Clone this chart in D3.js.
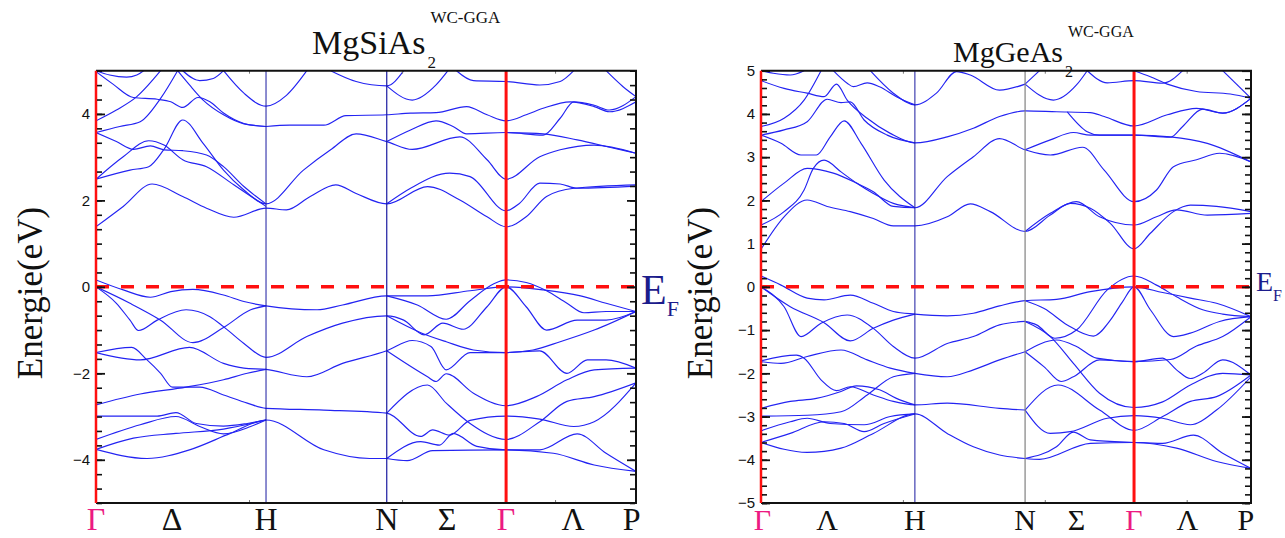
<!DOCTYPE html>
<html>
<head>
<meta charset="utf-8">
<title>MgSiAs2 / MgGeAs2 bands</title>
<script src="https://cdn.jsdelivr.net/npm/d3@7"></script>
<style>body{margin:0;background:#fff}</style>
</head>
<body>
<svg width="1285" height="538" id="mainsvg"></svg>
<script>
const svg = d3.select('#mainsvg');

// high symmetry points (Γ H N Γ P) and path labels
const siKPoints = [0, 1, 1.71, 2.412, 3.176];
const geKPoints = [0, 1, 1.716, 2.424, 3.184];
const siPathLabels = [['Γ', 0], ['Δ', 0.447], ['H', 1], ['N', 1.71], ['Σ', 2.065], ['Γ', 2.412], ['Λ', 2.806], ['P', 3.15]];
const gePathLabels = [['Γ', 0.01], ['Λ', 0.43], ['H', 1], ['N', 1.716], ['Σ', 2.05], ['Γ', 2.424], ['Λ', 2.77], ['P', 3.15]];
const siTickLabels = [-4, -2, 0, 2, 4];
const geTickLabels = [-5, -4, -3, -2, -1, 0, 1, 2, 3, 4, 5];
const siKTicks = [0.9, 1.8, 2.7];
const geKTicks = [0.922, 1.844, 2.766];

// MgSiAs2 bands [k, E(eV)]
const siConduction = [
  [[0,1.39],[0.16,1.86],[0.33,2.38],[0.51,2.09],[0.65,1.82],[0.81,1.61],[1,1.82],[1.12,1.78],[1.26,2.09],[1.41,2.36],[1.53,2.16],[1.71,1.92],[1.95,2.32],[2.14,2.01],[2.30,1.62],[2.412,1.39],[2.53,1.62],[2.65,2.09],[2.81,2.28],[3.176,2.36]],
  [[1.71,1.92],[1.85,2.28],[2.08,2.63],[2.20,2.55],[2.412,1.76],[2.49,1.93],[2.61,2.40],[2.73,2.38],[2.83,2.28],[3.176,2.33]],
  [[0,2.49],[0.20,2.70],[0.31,2.78],[0.40,3.18],[0.51,3.86],[0.63,3.32],[0.75,2.70],[0.87,2.24],[1,1.92],[1.22,2.70],[1.38,3.17],[1.53,3.54],[1.71,3.36],[1.86,3.18],[2.14,3.47],[2.30,2.94],[2.412,2.49],[2.61,3.01],[2.73,3.17],[2.93,3.28],[3.176,3.09]],
  [[0,2.49],[0.16,3.01],[0.31,3.38],[0.40,3.28],[0.51,2.94],[0.65,2.78],[0.81,2.36],[1,1.86]],
  [[0,3.57],[0.12,3.36],[0.22,3.18],[0.32,3.26],[0.40,3.17],[0.51,3.15],[0.65,3.05],[0.75,2.78],[0.87,2.32],[1,1.92]],
  [[1,3.71],[1.14,3.74],[1.34,3.74],[1.47,3.96],[1.71,3.98],[1.85,4.02],[2.0,4.03],[2.18,4.17],[2.30,3.98],[2.412,3.84],[2.53,3.98],[2.63,4.13],[2.79,4.28],[2.93,4.17],[3.02,4.05],[3.176,4.28]],
  [[1.71,3.36],[1.85,3.63],[2.0,3.84],[2.10,3.71],[2.18,3.54],[2.412,3.57],[2.63,3.51],[2.73,3.90],[2.81,4.28],[2.93,4.20],[3.02,4.09],[3.176,4.40]],
  [[2.412,3.57],[2.63,3.54],[2.83,3.40],[3.02,3.23],[3.176,3.09]],
  [[1.71,4.65],[1.86,4.32],[2.0,4.67],[2.07,5.0]],
  [[1.38,5.0],[1.53,4.75],[1.71,4.65],[1.81,5.0]],
  [[2.12,5.0],[2.22,4.77],[2.412,4.75],[2.61,4.67],[2.73,4.75],[2.81,5.0]],
  [[3.0,5.0],[3.10,4.63],[3.176,4.40]],
  [[0,5.0],[0.08,4.90],[0.18,4.85],[0.24,4.90],[0.28,5.0]],
  [[0,4.98],[0.10,4.69],[0.22,4.38],[0.36,4.34],[0.44,4.28],[0.51,4.15],[0.60,4.38],[0.67,4.28],[0.75,4.02],[0.87,3.78],[1,3.71]],
  [[0,3.84],[0.12,4.09],[0.24,4.40],[0.38,5.0]],
  [[0,3.57],[0.14,3.71],[0.26,3.82],[0.38,4.36],[0.48,5.0]],
  [[0.51,5.0],[0.61,4.77],[0.69,4.82],[0.75,5.0]],
  [[0.48,5.0],[0.55,4.67],[0.63,4.32],[0.75,3.98],[0.87,3.77],[1,3.71]],
  [[0.75,5.0],[0.87,4.48],[1,4.18],[1.12,4.43],[1.24,5.0]]
];
const siValence = [
  [[0,0.16],[0.16,-0.07],[0.32,-0.24],[0.44,-0.11],[0.57,-0.06],[0.75,-0.19],[0.87,-0.34],[1,-0.44],[1.30,-0.53],[1.45,-0.42],[1.71,-0.21],[1.95,-0.21],[2.20,-0.09],[2.412,0],[2.63,-0.07],[2.85,-0.21],[3.0,-0.38],[3.176,-0.57]],
  [[0,0],[0.12,-0.38],[0.20,-0.77],[0.25,-1.01],[0.36,-0.77],[0.53,-0.53],[0.67,-0.69],[0.75,-0.92],[0.87,-1.31],[1,-1.63],[1.24,-1.15],[1.45,-0.84],[1.71,-0.67],[1.81,-0.77],[1.93,-1.11],[2.04,-0.84],[2.16,-0.98],[2.30,-0.46],[2.412,0],[2.53,-0.46],[2.65,-1.0],[2.83,-0.77],[3.0,-0.77],[3.176,-0.57]],
  [[0,0],[0.20,-0.38],[0.38,-0.77],[0.57,-1.29],[0.75,-0.94],[0.91,-0.53],[1,-0.44]],
  [[1.71,-0.21],[1.89,-0.42],[2.06,-0.75],[2.20,-0.32],[2.34,0.07],[2.412,0.16],[2.53,0.10],[2.65,-0.09],[2.77,-0.38],[2.87,-0.60],[3.0,-0.57],[3.176,-0.57]],
  [[0,-1.52],[0.21,-1.40],[0.30,-1.69],[0.38,-2.0],[0.45,-2.32],[0.61,-2.32],[0.75,-2.50],[0.89,-2.69],[1,-2.81],[1.34,-2.85],[1.71,-2.92],[1.91,-3.46],[1.98,-3.31],[2.08,-3.43],[2.20,-3.09],[2.412,-2.99],[2.61,-3.06],[2.81,-3.23],[2.93,-3.12],[3.176,-2.22]],
  [[1.71,-2.92],[1.95,-2.27],[2.06,-2.69],[2.20,-3.16],[2.412,-3.53],[2.61,-3.12],[2.77,-2.65],[2.93,-2.54],[3.176,-2.22]],
  [[1.71,-3.97],[1.91,-3.58],[2.02,-3.66],[2.10,-3.39],[2.24,-3.69],[2.412,-3.77],[2.61,-3.77],[2.83,-3.40],[3.0,-3.85],[3.176,-4.27]],
  [[1.71,-3.97],[1.83,-4.02],[1.98,-3.79],[2.412,-3.77],[2.69,-3.85],[2.93,-4.12],[3.176,-4.27]],
  [[0,-1.52],[0.26,-1.69],[0.55,-1.40],[0.75,-1.77],[0.87,-1.88],[1,-1.91],[1.24,-2.08],[1.45,-1.77],[1.71,-1.48],[1.86,-1.24],[1.97,-1.38],[2.06,-1.92],[2.20,-1.52],[2.412,-1.52],[2.61,-1.48],[2.77,-2.0],[2.89,-1.69],[3.0,-1.69],[3.176,-1.88]],
  [[1.71,-1.48],[1.95,-2.08],[2.0,-2.19],[2.06,-2.01],[2.22,-2.46],[2.412,-2.75],[2.59,-2.54],[2.77,-2.15],[2.93,-1.92],[3.176,-1.88]],
  [[1.71,-0.67],[1.91,-1.06],[2.06,-1.27],[2.22,-1.46],[2.412,-1.52],[2.57,-1.46],[2.73,-1.27],[2.93,-1.0],[3.176,-0.57]],
  [[0,-2.73],[0.26,-2.48],[0.53,-2.32],[0.75,-2.15],[0.89,-2.0],[1,-1.91]],
  [[0,-2.99],[0.36,-2.99],[0.47,-2.91],[0.59,-3.16],[0.75,-3.22],[0.89,-3.16],[1,-3.08]],
  [[0,-3.53],[0.26,-3.19],[0.47,-3.0],[0.61,-3.23],[0.75,-3.40],[0.91,-3.23],[1,-3.08]],
  [[0,-3.76],[0.22,-3.50],[0.47,-3.39],[0.75,-3.29],[1,-3.08]],
  [[0,-3.76],[0.30,-3.97],[0.55,-3.77],[0.79,-3.39],[1,-3.08],[1.34,-3.77],[1.61,-3.97],[1.71,-3.97]]
];

// MgGeAs2 bands [k, E(eV)]
const geConduction = [
  [[0,0.87],[0.15,1.62],[0.30,2.01],[0.43,1.86],[0.58,1.74],[0.73,1.58],[0.86,1.41],[1,1.41],[1.21,1.62],[1.36,1.92],[1.49,1.74],[1.716,1.28],[1.88,1.66],[2.01,1.93],[2.14,1.82],[2.27,1.47],[2.424,0.88],[2.53,1.24],[2.68,1.74],[2.79,1.89],[2.96,1.86],[3.184,1.74]],
  [[1.716,1.28],[1.88,1.70],[2.05,1.97],[2.20,1.62],[2.424,1.43],[2.57,1.62],[2.70,1.78],[2.90,1.66],[3.184,1.70]],
  [[0,1.43],[0.15,1.74],[0.28,2.24],[0.34,2.74],[0.41,2.93],[0.52,2.66],[0.62,2.40],[0.73,2.16],[0.86,1.93],[1,1.83]],
  [[0,1.97],[0.15,2.40],[0.30,2.74],[0.47,2.63],[0.62,2.40],[0.73,2.20],[0.86,1.86],[1,1.83],[1.21,2.55],[1.38,3.01],[1.55,3.43],[1.716,3.17],[1.88,3.05],[2.09,3.23],[2.23,2.70],[2.424,1.97],[2.57,2.24],[2.68,2.78],[2.83,2.94],[2.98,3.09],[3.184,2.89]],
  [[0,3.51],[0.13,3.32],[0.26,3.05],[0.36,3.05],[0.45,3.47],[0.54,3.84],[0.65,3.32],[0.80,2.47],[1,1.83]],
  [[0,4.77],[0.15,4.59],[0.30,4.48],[0.41,4.40],[0.49,4.69],[0.56,4.32],[0.69,3.90],[0.84,3.55],[1,3.33],[1.21,3.47],[1.38,3.67],[1.55,3.94],[1.716,4.07],[1.92,4.05],[2.14,4.03],[2.23,3.94],[2.424,3.72],[2.64,3.98],[2.83,4.13],[3.0,4.02],[3.184,4.36]],
  [[0,3.71],[0.15,3.90],[0.28,4.32],[0.39,5.0]],
  [[0,3.51],[0.15,3.63],[0.30,3.82],[0.43,4.34],[0.52,4.26],[0.58,4.28],[0.67,3.86],[0.82,3.51],[1,3.33]],
  [[0,5.0],[0.08,4.94],[0.19,4.90],[0.28,5.0]],
  [[0.47,5.0],[0.56,4.71],[0.60,4.63],[0.69,4.72],[0.77,4.63],[0.88,4.40],[1,4.21]],
  [[0.71,5.0],[0.86,4.48],[1,4.21],[1.14,4.48],[1.27,4.98],[1.36,4.90],[1.55,4.55],[1.716,4.69]],
  [[1.716,3.17],[1.88,3.40],[2.03,3.57],[2.14,3.51],[2.424,3.51],[2.66,3.47],[2.90,3.32],[3.184,2.89]],
  [[1.99,4.05],[2.12,3.59],[2.20,3.51],[2.424,3.51],[2.66,3.46],[2.74,3.71],[2.87,4.11],[3.0,4.02],[3.184,4.36]],
  [[1.716,4.69],[1.90,4.32],[2.05,4.67],[2.12,5.0]],
  [[1.716,4.69],[1.81,5.0]],
  [[2.12,5.0],[2.25,4.72],[2.424,4.77],[2.61,4.71],[2.74,5.0]],
  [[2.424,5.0],[2.53,4.86],[2.64,4.69],[2.83,4.52],[3.05,4.46],[3.184,4.36]],
  [[3.0,5.0],[3.184,4.36]]
];
const geValence = [
  [[0,0.25],[0.13,0.04],[0.30,-0.26],[0.41,-0.30],[0.58,-0.19],[0.73,-0.38],[0.86,-0.57],[1,-0.63],[1.21,-0.67],[1.38,-0.61],[1.55,-0.44],[1.716,-0.32],[1.92,-0.29],[2.14,-0.11],[2.424,0],[2.61,-0.13],[2.79,-0.26],[2.96,-0.38],[3.184,-0.69]],
  [[0,0],[0.15,-0.46],[0.26,-1.15],[0.39,-0.84],[0.56,-0.65],[0.73,-0.96],[0.86,-1.38],[1,-1.65],[1.21,-1.31],[1.38,-1.15],[1.55,-0.88],[1.716,-0.80]],
  [[0,0],[0.19,-0.46],[0.41,-0.83],[0.58,-1.25],[0.73,-0.96],[0.86,-0.77],[1,-0.63]],
  [[0,-1.71],[0.23,-1.58],[0.28,-1.65],[0.39,-2.15],[0.49,-2.40],[0.58,-2.31],[0.73,-2.50],[0.86,-2.65],[1,-2.73],[1.21,-2.69],[1.55,-2.81],[1.716,-2.85]],
  [[0,-1.73],[0.13,-1.77],[0.30,-1.61],[0.52,-1.46],[0.69,-1.69],[0.84,-1.88],[1,-2.0],[1.21,-2.08],[1.38,-1.92],[1.55,-1.69],[1.716,-1.50]],
  [[0,-2.81],[0.19,-2.65],[0.36,-2.58],[0.52,-2.42],[0.62,-2.29],[0.77,-2.38],[0.88,-2.58],[1,-2.73]],
  [[0,-2.99],[0.30,-2.97],[0.52,-2.89],[0.69,-2.50],[0.86,-2.08],[1,-2.0]],
  [[0,-3.33],[0.19,-3.12],[0.30,-3.04],[0.45,-3.16],[0.67,-3.19],[0.84,-3.0],[1,-2.94]],
  [[0,-3.60],[0.19,-3.39],[0.41,-3.12],[0.54,-3.16],[0.67,-3.35],[0.80,-3.16],[1,-2.94]],
  [[0,-3.60],[0.30,-3.83],[0.52,-3.73],[0.73,-3.39],[1,-2.94],[1.21,-3.39],[1.38,-3.70],[1.55,-3.89],[1.716,-3.97]],
  [[1.716,-0.32],[1.84,-0.50],[1.99,-0.88],[2.16,-1.14],[2.27,-0.77],[2.35,-0.34],[2.424,0],[2.53,-0.53],[2.68,-1.15],[2.79,-1.07],[2.98,-0.80],[3.184,-0.69]],
  [[1.716,-0.80],[1.79,-0.88],[1.91,-1.19],[2.05,-1.0],[2.25,-0.07],[2.424,0.25],[2.57,0.04],[2.70,-0.23],[2.87,-0.53],[3.0,-0.63],[3.184,-0.69]],
  [[1.716,-0.80],[1.88,-1.15],[2.03,-1.77],[2.20,-2.46],[2.424,-2.79],[2.61,-2.66],[2.79,-2.27],[3.0,-2.0],[3.184,-2.04]],
  [[1.716,-1.50],[1.92,-1.23],[2.05,-1.38],[2.18,-1.65],[2.424,-1.73],[2.61,-1.65],[2.70,-1.92],[2.79,-2.12],[2.87,-2.0],[3.0,-1.69],[3.184,-2.04]],
  [[1.716,-1.50],[1.84,-1.85],[1.95,-2.19],[2.03,-2.08],[2.20,-1.69],[2.424,-1.73],[2.66,-1.68],[2.83,-1.37],[3.0,-1.15],[3.184,-0.69]],
  [[1.716,-2.85],[1.93,-2.27],[2.20,-2.85],[2.424,-3.32],[2.61,-3.0],[2.79,-2.65],[2.96,-2.54],[3.184,-2.04]],
  [[1.716,-2.85],[1.88,-3.39],[2.01,-3.35],[2.25,-3.04],[2.424,-2.98],[2.61,-3.04],[2.79,-3.19],[2.96,-2.85],[3.184,-2.08]],
  [[1.716,-3.97],[1.92,-3.70],[2.03,-3.36],[2.14,-3.54],[2.424,-3.60],[2.61,-3.62],[2.81,-3.43],[3.0,-3.85],[3.184,-4.20]],
  [[1.716,-3.97],[1.81,-3.99],[2.14,-3.62],[2.424,-3.60],[2.70,-3.73],[2.96,-4.04],[3.184,-4.20]]
];

const serif = "'Liberation Serif', 'Times New Roman', Times, serif";
const panels = [
  { id: 'si', left: 96, right: 636, kPoints: siKPoints, bands: siConduction.concat(siValence),
    labels: siPathLabels, tickLabels: siTickLabels, kTicks: siKTicks, minorStep: 1 / 3,
    nColor: '#1a1aa0', labelSize: 32, yLabelX: 42 },
  { id: 'ge', left: 761, right: 1251, kPoints: geKPoints, bands: geConduction.concat(geValence),
    labels: gePathLabels, tickLabels: geTickLabels, kTicks: geKTicks, minorStep: 0.2,
    nColor: '#808080', labelSize: 30, yLabelX: 712 }
];
const plotTop = 70.7, plotBottom = 503;
const gammaPink = '#ec1a82';
const navy = '#1c1c8c';

panels.forEach(p => {
  const g = svg.append('g').attr('id', p.id);
  const x = d3.scaleLinear().domain([0, p.kPoints[4]]).range([p.left, p.right]);
  const y = d3.scaleLinear().domain([-5, 5]).range([plotBottom, plotTop]);

  g.append('clipPath').attr('id', 'clip-' + p.id).append('rect')
    .attr('x', p.left).attr('y', plotTop).attr('width', p.right - p.left).attr('height', plotBottom - plotTop);

  // bands
  const line = d3.line().x(d => x(d[0])).y(d => y(d[1])).curve(d3.curveMonotoneX);
  g.append('g').attr('clip-path', `url(#clip-${p.id})`)
    .selectAll('path').data(p.bands).join('path')
    .attr('d', line).attr('fill', 'none')
    .attr('stroke', '#2323f2').attr('stroke-width', 1.15);

  // vertical symmetry lines
  g.append('line').attr('x1', x(p.kPoints[1])).attr('x2', x(p.kPoints[1]))
    .attr('y1', plotTop).attr('y2', plotBottom).attr('stroke', '#1a1aa0').attr('stroke-width', 1);
  g.append('line').attr('x1', x(p.kPoints[2])).attr('x2', x(p.kPoints[2]))
    .attr('y1', plotTop).attr('y2', plotBottom).attr('stroke', p.nColor).attr('stroke-width', 1.2);

  // Fermi level
  g.append('line').attr('x1', p.left).attr('x2', p.right).attr('y1', y(0)).attr('y2', y(0))
    .attr('stroke', '#ff1010').attr('stroke-width', 3.5).attr('stroke-dasharray', '13,12');

  g.append('line').attr('x1', x(p.kPoints[3])).attr('x2', x(p.kPoints[3]))
    .attr('y1', plotTop).attr('y2', plotBottom).attr('stroke', '#ff1010').attr('stroke-width', 3);

  // small k ticks on top and bottom frame
  g.append('g').attr('transform', `translate(0,${plotTop})`)
    .call(d3.axisBottom(x).tickValues(p.kTicks).tickSize(3).tickFormat(''))
    .call(s => s.select('.domain').remove())
    .call(s => s.selectAll('line').attr('stroke', '#777'));
  g.append('g').attr('transform', `translate(0,${plotBottom})`)
    .call(d3.axisTop(x).tickValues(p.kTicks).tickSize(3).tickFormat(''))
    .call(s => s.select('.domain').remove())
    .call(s => s.selectAll('line').attr('stroke', '#777'));

  // frame
  g.append('path')
    .attr('d', `M${p.left},${plotTop}H${p.right}V${plotBottom}H${p.left}`)
    .attr('fill', 'none').attr('stroke', '#111').attr('stroke-width', 2);
  g.append('line').attr('x1', p.left).attr('x2', p.left).attr('y1', plotTop).attr('y2', plotBottom)
    .attr('stroke', '#ff1010').attr('stroke-width', 2.5);

  // y ticks, inward on both sides
  const minor = d3.range(-5, 5.001, p.minorStep);
  const major = p.tickLabels;
  [[d3.axisRight, p.left + 1], [d3.axisLeft, p.right - 1]].forEach(([ax, pos]) => {
    g.append('g').attr('transform', `translate(${pos},0)`)
      .call(ax(y).tickValues(minor).tickSize(5).tickFormat(''))
      .call(s => s.select('.domain').remove())
      .call(s => s.selectAll('line').attr('stroke', '#111').attr('stroke-width', 1.6));
    g.append('g').attr('transform', `translate(${pos},0)`)
      .call(ax(y).tickValues(major).tickSize(8).tickFormat(''))
      .call(s => s.select('.domain').remove())
      .call(s => s.selectAll('line').attr('stroke', '#111').attr('stroke-width', 1.8));
  });
  g.append('g').attr('transform', `translate(${p.left - 6},0)`)
    .call(d3.axisLeft(y).tickValues(major).tickSize(0).tickPadding(0))
    .call(s => s.select('.domain').remove())
    .call(s => s.selectAll('text').attr('font-family', "'Liberation Sans', Arial, sans-serif")
      .attr('font-size', 15).attr('fill', '#111'));

  // k-path labels
  g.selectAll('.klabel').data(p.labels).join('text')
    .attr('class', 'klabel')
    .attr('x', d => x(d[1])).attr('y', 530)
    .attr('text-anchor', 'middle')
    .attr('font-family', serif)
    .attr('font-size', p.labelSize)
    .attr('fill', d => d[0] === 'Γ' ? gammaPink : '#111')
    .text(d => d[0]);

  // y label
  g.append('text')
    .attr('transform', `translate(${p.yLabelX},293) rotate(-90)`)
    .attr('text-anchor', 'middle')
    .attr('font-family', serif)
    .attr('font-size', 35).attr('fill', '#111')
    .text('Energie(eV)');
});

// Fermi labels
const ef1 = svg.append('text').attr('x', 641).attr('y', 304)
  .attr('font-family', serif).attr('fill', navy);
ef1.append('tspan').attr('font-size', 42).text('E');
ef1.append('tspan').attr('font-size', 22).attr('dy', 12).text('F');
const ef2 = svg.append('text').attr('x', 1256).attr('y', 291)
  .attr('font-family', serif).attr('fill', navy);
ef2.append('tspan').attr('font-size', 28).text('E');
ef2.append('tspan').attr('font-size', 16).attr('dy', 10).text('F');

// titles: formula, subscript 2, superscript method
function title(x0, base, size, name, supY, subY, supSize) {
  const t = svg.append('text').attr('x', x0).attr('y', base)
    .attr('font-family', serif).attr('font-size', size).attr('fill', '#111')
    .text(name);
  const w = t.node().getComputedTextLength();
  svg.append('text').attr('x', x0 + w + 2).attr('y', subY)
    .attr('font-family', serif).attr('font-size', supSize).attr('fill', '#111').text('2');
  svg.append('text').attr('x', x0 + w + 5).attr('y', supY)
    .attr('font-family', serif).attr('font-size', supSize).attr('fill', '#111')
    .text('WC-GGA');
}
title(312, 54, 34, 'MgSiAs', 23, 68, 17);
title(953, 62, 30, 'MgGeAs', 37, 77, 16);
</script>
</body>
</html>
